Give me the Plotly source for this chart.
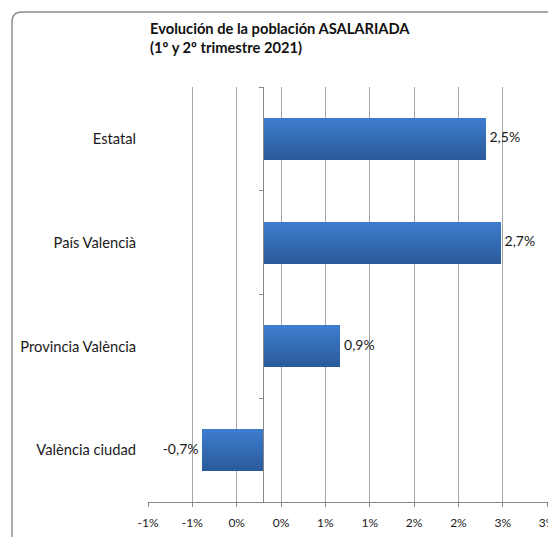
import plotly.graph_objects as go

# ---- data ----
categories = ["Estatal", "País Valencià", "Provincia València", "València ciudad"]
values = [2.51, 2.68, 0.87, -0.69]
value_labels = ["2,5%", "2,7%", "0,9%", "-0,7%"]
x_tick_vals = [-1.3, -0.8, -0.3, 0.2, 0.7, 1.2, 1.7, 2.2, 2.7, 3.2]
x_tick_text = ["-1%", "-1%", "0%", "0%", "1%", "1%", "2%", "2%", "3%", "3%"]
title_lines = ["Evolución de la población ASALARIADA", "(1º y 2º trimestre 2021)"]

# ---- layout geometry (pixels) ----
W, H = 548, 537
ML, MR, MT, MB = 148, 0, 87, 35
PW = W - ML - MR
PH = H - MT - MB
X_MIN, X_MAX = -1.3, 3.21

def px2paper_x(px):
    return (px - ML) / PW

def px2paper_y(py):
    return (H - MB - py) / PH

FONT = "Lato, 'Open Sans', sans-serif"
top_rgb = (0x3D, 0x7B, 0xCD)
bot_rgb = (0x2A, 0x5B, 0x9B)

fig = go.Figure()

bar_w = 0.405
N = 16
for k in range(N):
    t = k / (N - 1)
    c = tuple(round(top_rgb[i] + (bot_rgb[i] - top_rgb[i]) * t) for i in range(3))
    start = -bar_w / 2 + k * bar_w / N
    fig.add_trace(go.Bar(
        y=categories, x=values, orientation="h",
        offset=start, width=bar_w / 2 - start,
        marker=dict(color="rgb(%d,%d,%d)" % c, line=dict(width=0)),
        hoverinfo="skip", showlegend=False,
    ))

fig.add_trace(go.Scatter(
    y=categories, x=values, mode="text",
    text=[(" " + t) if v >= 0 else (t + " ") for t, v in zip(value_labels, values)],
    textposition=["middle right" if v >= 0 else "middle left" for v in values],
    textfont=dict(family=FONT, size=14, color="#1a1a1a"),
    cliponaxis=False, showlegend=False, hoverinfo="skip",
))

# frame with rounded top-left corner
x0, y0, r = 12, 12, 10
path = "M {a},{b} L {a},{c} Q {a},{d} {e},{d} L {f},{d}".format(
    a=px2paper_x(x0), b=px2paper_y(H + 20), c=px2paper_y(y0 + r),
    d=px2paper_y(y0), e=px2paper_x(x0 + r), f=px2paper_x(W + 20))
fig.add_shape(type="path", path=path, xref="paper", yref="paper",
              line=dict(color="#8a8a8a", width=1.4), layer="above")

fig.add_annotation(
    text="<b>" + title_lines[0] + "</b><br><b>" + title_lines[1] + "</b>",
    xref="paper", yref="paper", x=0, y=px2paper_y(17),
    xanchor="left", yanchor="top", align="left", showarrow=False,
    font=dict(family=FONT, size=14.7, color="#111111"),
)

fig.update_layout(
    width=W, height=H,
    margin=dict(l=ML, r=MR, t=MT, b=MB, autoexpand=False),
    paper_bgcolor="white", plot_bgcolor="white",
    barmode="overlay", bargap=0,
    showlegend=False,
    xaxis=dict(
        range=[X_MIN, X_MAX], tickvals=x_tick_vals, ticktext=x_tick_text,
        showgrid=True, gridcolor="#a6a6a6", gridwidth=1,
        zeroline=False, showline=True, linecolor="#868686", linewidth=1,
        ticks="outside", ticklen=4, tickcolor="#868686",
        tickfont=dict(family=FONT, size=12, color="#1a1a1a"),
        ticklabelstandoff=6, ticklabeloverflow="allow",
        automargin=False, fixedrange=True,
    ),
    yaxis=dict(
        range=[3.5, -0.5], showgrid=False, zeroline=False, showline=False,
        ticks="", ticklabelstandoff=11,
        tickfont=dict(family=FONT, size=14.7, color="#1a1a1a"),
        automargin=False, fixedrange=True,
    ),
    yaxis2=dict(
        overlaying="y", anchor="free", position=(0 - X_MIN) / (X_MAX - X_MIN),
        side="left", range=[3.5, -0.5], type="linear",
        tickvals=[-0.5, 0.5, 1.5, 2.5, 3.5], showticklabels=False,
        ticks="outside", ticklen=4, tickcolor="#868686",
        showline=True, linecolor="#868686", linewidth=1,
        showgrid=False, zeroline=False, automargin=False, fixedrange=True,
    ),
)

# invisible trace to activate yaxis2
fig.add_trace(go.Scatter(x=[X_MIN], y=[0], yaxis="y2", mode="markers",
                         marker=dict(opacity=0), showlegend=False, hoverinfo="skip"))

fig.write_html(
    "out.html",
    config={"displayModeBar": False},
    post_script="document.body.style.margin='0px';document.body.style.overflow='hidden';",
)
